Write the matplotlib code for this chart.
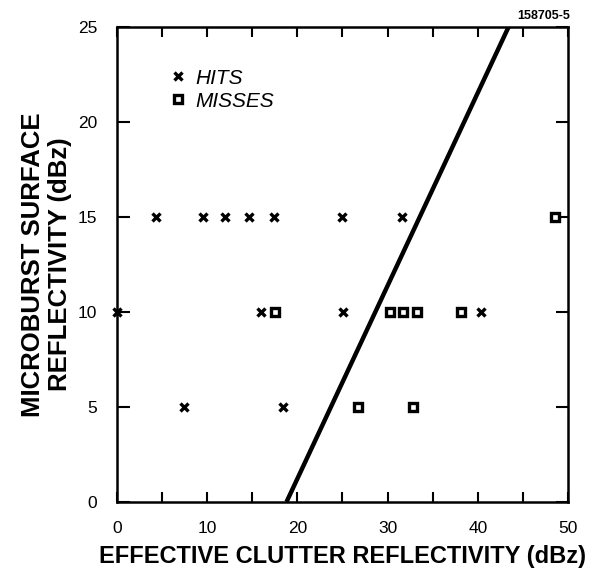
import matplotlib
matplotlib.use('Agg')
import matplotlib.pyplot as plt
import numpy as np

plt.rcParams['font.family'] = ['Liberation Sans', 'DejaVu Sans']

# hits (x marks)
hits_x = [4.3, 9.6, 12.0, 14.6, 17.4, 24.9, 31.6,
          0.0, 16.0, 25.1, 40.4,
          7.4, 18.4]
hits_y = [15, 15, 15, 15, 15, 15, 15,
          10, 10, 10, 10,
          5, 5]

# misses (squares)
miss_x = [48.6, 17.5, 30.3, 31.7, 33.3, 38.1, 26.7, 32.8]
miss_y = [15, 10, 10, 10, 10, 10, 5, 5]

# threshold line endpoints
line_x = [18.8, 43.4]
line_y = [0, 25]

fig = plt.figure(figsize=(5.93, 5.75), dpi=100)
ax = fig.add_axes([0.197, 0.127, 0.761, 0.826])

ax.plot(line_x, line_y, color='black', lw=3.2, solid_capstyle='butt')
ax.plot(hits_x, hits_y, linestyle='none', marker='x', ms=6, mew=2.4,
        color='black', clip_on=False, label='HITS')
ax.plot(miss_x, miss_y, linestyle='none', marker='s', ms=6, mew=2.4,
        mfc='white', mec='black', clip_on=False, label='MISSES')

ax.set_xlim(0, 50)
ax.set_ylim(0, 25)
ax.set_xticks(np.arange(0, 51, 10))
ax.set_xticks(np.arange(0, 51, 5), minor=True)
ax.set_yticks(np.arange(0, 26, 5))
ax.tick_params(axis='both', which='both', direction='in', top=True, right=True,
               width=1.5, labelsize=12.5)
ax.tick_params(axis='x', which='both', length=7, pad=14)
ax.tick_params(axis='y', which='major', length=9, pad=14)
for s in ax.spines.values():
    s.set_linewidth(1.8)

ax.set_xlabel('EFFECTIVE CLUTTER REFLECTIVITY (dBz)', fontsize=17,
              fontweight='bold', labelpad=6)
ax.set_ylabel('MICROBURST SURFACE\nREFLECTIVITY (dBz)', fontsize=18.5,
              fontweight='bold', linespacing=1.15)
ax.yaxis.set_label_coords(-0.1, 0.5)

leg = ax.legend(loc='upper left', bbox_to_anchor=(0.095, 0.93), frameon=False,
                prop={'style': 'italic', 'size': 15}, handletextpad=0.3,
                labelspacing=0.2, handlelength=1.0, borderaxespad=0)

fig.text(0.962, 0.962, '158705-5', ha='right', va='bottom', fontsize=9,
         fontweight='bold')

fig.savefig('out.png', dpi=100)
